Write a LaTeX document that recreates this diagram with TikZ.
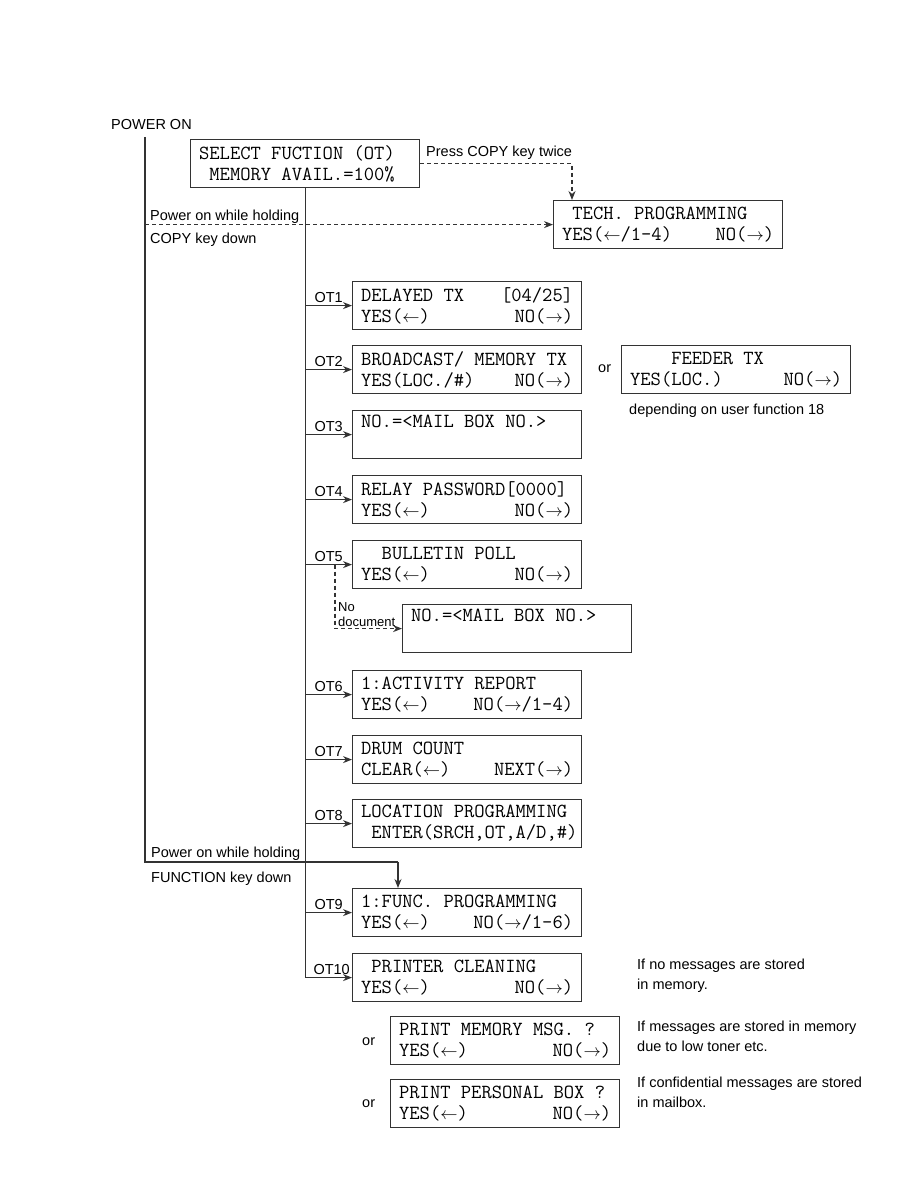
\documentclass[tikz,border=0pt]{standalone}
\usepackage{fontspec}
\setmainfont{Liberation Sans}
\usetikzlibrary{arrows.meta,positioning,calc}
\definecolor{boxline}{HTML}{333333}
\newcommand\keyL{{\fontsize{16}{16}\selectfont$\leftarrow$}}
\newcommand\keyR{{\fontsize{16}{16}\selectfont$\rightarrow$}}

\tikzset{
  lcd/.style={draw=boxline, line width=1.2pt, anchor=north west, minimum width=229pt, minimum height=48pt,
    text width=212pt, inner xsep=8.5pt, inner ysep=0pt, align=flush left,
    font=\ttfamily\fontsize{20}{21}\selectfont\frenchspacing},
  note/.style={anchor=base west, inner sep=0pt, font=\fontsize{14.5}{20}\selectfont},
  note2/.style={anchor=north west, inner sep=0pt, align=left, font=\fontsize{14.5}{20}\selectfont},
  otlab/.style={anchor=base east, inner sep=0pt, font=\fontsize{14.5}{17}\selectfont},
  link/.style={line width=1.2pt, draw=boxline},
  flow/.style={link, -{Stealth[length=9pt,width=7pt]}},
  dash link/.style={link, dash pattern=on 4pt off 3pt, -{Stealth[length=9pt,width=7pt]}},
}

\begin{document}
\begin{tikzpicture}[x=1pt, y=-1pt]
  \useasboundingbox (0,0) rectangle (918,1188);

  % start and the two key combinations
  \node[note] (pwr) at (111,130) {POWER ON};
  \coordinate (pline) at (145,137);
  \coordinate (fkey) at (398,862);
  \node[lcd] (sel) at (190,139) {SELECT FUCTION (OT)\\~MEMORY AVAIL.=100\%};
  \node[lcd] (tech) at (553,200) {~TECH. PROGRAMMING\\YES(\keyL/1-4)\hfill NO(\keyR)};
  \node[note] (presscopy) at (426,157) {Press COPY key twice};
  \node[note] (copyhold) at (150,220) {Power on while holding};
  \node[note] (copydown) at (150,243) {COPY key down};
  \node[note] (fnhold) at (151,857) {Power on while holding};
  \node[note] (fndown) at (151,882) {FUNCTION key down};

  % OT menu
  \node[lcd] (ot1) at (352,281) {DELAYED TX\hfill[04/25]\\YES(\keyL)\hfill NO(\keyR)};
  \node[lcd] (ot2) at (352,345) {BROADCAST/ MEMORY TX\\YES(LOC./\#)\hfill NO(\keyR)\hspace*{7pt}};
  \node[lcd] (feed) at (621,345) {~~~~FEEDER TX\\YES(LOC.)\hfill NO(\keyR)};
  \node[note] (orfeed) at (598,372) {or};
  \node[note] (userfn) at (629,414) {depending on user function 18};
  \node[lcd] (ot3) at (352,410) {NO.=<MAIL BOX NO.>\\\strut};
  \node[lcd] (ot4) at (352,475) {RELAY PASSWORD[0000]\\YES(\keyL)\hfill NO(\keyR)};
  \node[lcd] (ot5) at (352,540) {~~BULLETIN POLL\\YES(\keyL)\hfill NO(\keyR)};
  \node[lcd] (mbox) at (402,604) {NO.=<MAIL BOX NO.>\\\strut};
  \node[note2, font=\fontsize{13}{15}\selectfont] (nodoc) at (338,602) {No\\document};
  \node[lcd] (ot6) at (352,670) {1:ACTIVITY REPORT\\YES(\keyL)\hfill NO(\keyR/1-4)};
  \node[lcd] (ot7) at (352,735) {DRUM COUNT\\CLEAR(\keyL)\hfill NEXT(\keyR)};
  \node[lcd] (ot8) at (352,799) {LOCATION PROGRAMMING\\~ENTER(SRCH,OT,A/D,\#)};
  \node[lcd] (ot9) at (352,888) {1:FUNC. PROGRAMMING\\YES(\keyL)\hfill NO(\keyR/1-6)};
  \node[lcd] (ot10) at (352,953) {~PRINTER CLEANING\\YES(\keyL)\hfill NO(\keyR)};
  \node[lcd] (pmem) at (390,1016) {PRINT MEMORY MSG. ?\\YES(\keyL)\hfill NO(\keyR)};
  \node[lcd] (ppers) at (390,1079) {PRINT PERSONAL BOX ?\\YES(\keyL)\hfill NO(\keyR)};
  \node[note] (ormem) at (362,1045) {or};
  \node[note] (orpers) at (362,1107) {or};
  \node[note2] (msgnone) at (637,959) {If no messages are stored\\in memory.};
  \node[note2] (msgtoner) at (637,1021) {If messages are stored in memory\\due to low toner etc.};
  \node[note2] (msgbox) at (637,1077) {If confidential messages are stored\\in mailbox.};

  % labels on the branches
  \node[otlab] at ([xshift=-9pt,yshift=3.5pt]ot1.west) {OT1};
  \node[otlab] at ([xshift=-9pt,yshift=3.5pt]ot2.west) {OT2};
  \node[otlab] at ([xshift=-9pt,yshift=3.5pt]ot3.west) {OT3};
  \node[otlab] at ([xshift=-9pt,yshift=3.5pt]ot4.west) {OT4};
  \node[otlab] at ([xshift=-9pt,yshift=3.5pt]ot5.west) {OT5};
  \node[otlab] at ([xshift=-9pt,yshift=3.5pt]ot6.west) {OT6};
  \node[otlab] at ([xshift=-9pt,yshift=3.5pt]ot7.west) {OT7};
  \node[otlab] at ([xshift=-9pt,yshift=3.5pt]ot8.west) {OT8};
  \node[otlab] at ([xshift=-9pt,yshift=3.5pt]ot9.west) {OT9};
  \node[otlab] at ([xshift=-2pt,yshift=3.5pt]ot10.west) {OT10};

  % connectors
  \draw[link] (pline) |- (fkey);
  \draw[flow] (fkey) -- (fkey |- ot9.north);
  \draw[dash link] (pline |- tech.west) -- (tech.west);
  \draw[dash link] (sel.east) -| ([xshift=19pt]tech.north west);
  \draw[link] (sel.south) -- (sel.south |- ot10.west);
  \draw[flow] (sel.south |- ot1.west) -- (ot1.west);
  \draw[flow] (sel.south |- ot2.west) -- (ot2.west);
  \draw[flow] (sel.south |- ot3.west) -- (ot3.west);
  \draw[flow] (sel.south |- ot4.west) -- (ot4.west);
  \draw[flow] (sel.south |- ot5.west) -- (ot5.west);
  \draw[flow] (sel.south |- ot6.west) -- (ot6.west);
  \draw[flow] (sel.south |- ot7.west) -- (ot7.west);
  \draw[flow] (sel.south |- ot8.west) -- (ot8.west);
  \draw[flow] (sel.south |- ot9.west) -- (ot9.west);
  \draw[flow] (sel.south |- ot10.west) -- (ot10.west);
  \draw[dash link] ([xshift=-17pt]ot5.west) |- (mbox.west);
\end{tikzpicture}
\end{document}
